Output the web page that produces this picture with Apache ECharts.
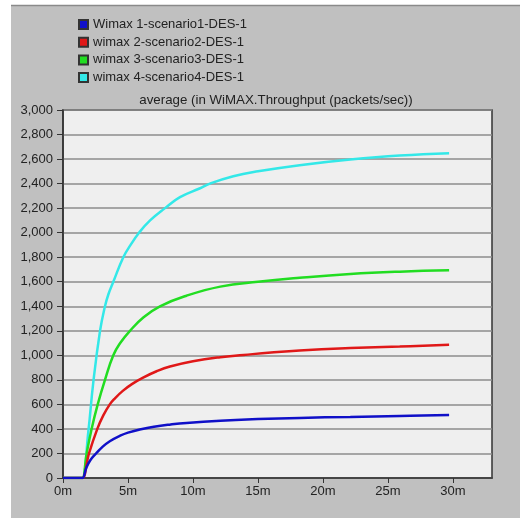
<!DOCTYPE html>
<html>
<head>
<meta charset="utf-8">
<script src="https://cdn.jsdelivr.net/npm/echarts@6/dist/echarts.min.js"></script>
<style>html,body{margin:0;padding:0;background:#fff;}#c{width:520px;height:518px;}</style>
</head>
<body>
<div id="c"></div>
<script>
// time in minutes, throughput in packets/sec
var seriesNames = ['Wimax 1-scenario1-DES-1', 'wimax 2-scenario2-DES-1', 'wimax 3-scenario3-DES-1', 'wimax 4-scenario4-DES-1'];
var wimax1 = [[0,0],[1.4,0],[1.5,0],[1.8,85],[2.1,145],[2.54,200],[3.0,250],[3.6,300],[4.4,345],[5,370],[6,398],[7,418],[8.2,435],[9.5,449],[12.1,467],[15,480],[18.2,490],[22.1,498],[25.9,506],[29.7,514]];
var wimax2 = [[0,0],[1.4,0],[1.5,0],[2.0,200],[2.64,400],[3.1,510],[3.6,600],[4.0,650],[4.6,710],[5.3,765],[6.2,820],[7.2,870],[8.23,909],[10,952],[12.1,985],[13.9,1003],[16,1023],[18.2,1040],[22.1,1059],[25.9,1072],[29.7,1086]];
var wimax3 = [[0,0],[1.4,0],[1.5,0],[1.82,200],[2.2,400],[2.67,600],[3.23,800],[3.87,1000],[4.4,1100],[5.15,1200],[6.2,1310],[7.46,1400],[9.5,1486],[12.1,1560],[15,1600],[18.2,1632],[22.1,1663],[25.9,1682],[29.7,1693]];
var wimax4 = [[0,0],[1.4,0],[1.5,0],[1.95,380],[2.33,780],[2.85,1200],[3.23,1400],[3.5,1500],[3.87,1600],[4.64,1800],[5.2,1900],[5.85,2000],[6.7,2100],[7.85,2200],[9,2290],[10.5,2360],[11.3,2400],[13.1,2460],[15,2500],[18.2,2550],[22.1,2596],[25.9,2629],[29.7,2648]];
var xTicks = [0, 5, 10, 15, 20, 25, 30];
var chartTitle = 'average (in WiMAX.Throughput (packets/sec))';

var colors = ['#1010c8', '#e01818', '#22dd22', '#33e8e8'];
var dataList = [wimax1, wimax2, wimax3, wimax4];
var FONT = 'Liberation Sans, Arial, sans-serif';

var series = [];
for (var i = 3; i >= 0; i--) {
  series.push({
    name: seriesNames[i],
    type: 'line',
    data: dataList[i],
    smooth: 0.45,
    showSymbol: false,
    z: 10 - i,
    lineStyle: { color: colors[i], width: 2.5 },
    itemStyle: { color: colors[i], borderColor: '#333', borderWidth: 1 }
  });
}

var chart = echarts.init(document.getElementById('c'), null, { renderer: 'canvas' });
chart.setOption({
  animation: false,
  backgroundColor: '#ffffff',
  textStyle: { fontFamily: FONT },
  graphic: [
    { type: 'rect', z: -10, shape: { x: 11, y: 6, width: 520, height: 520 }, style: { fill: '#c0c0c0' } },
    { type: 'line', z: -9, shape: { x1: 11, y1: 5.5, x2: 520, y2: 5.5 }, style: { stroke: '#8a8a8a', lineWidth: 1.5 } },
    { type: 'text', x: 276, y: 100, style: { text: chartTitle, align: 'center', verticalAlign: 'middle', fontSize: 13.3, fill: '#222', fontFamily: FONT } }
  ],
  legend: {
    orient: 'vertical',
    left: 78,
    top: 18,
    padding: 0,
    data: seriesNames,
    icon: 'rect',
    itemWidth: 9,
    itemHeight: 9,
    itemGap: 4.7,
    itemTextGap: 5,
    textStyle: { fontSize: 13, color: '#222', lineHeight: 13, fontFamily: FONT }
  },
  grid: {
    left: 63, top: 110, right: 28, bottom: 40,
    show: true, backgroundColor: '#efefef', borderColor: '#333', borderWidth: 1.5
  },
  xAxis: {
    type: 'value', min: 0, max: 33, interval: 5,
    axisLine: { show: true, lineStyle: { color: '#333', width: 1.5 } },
    axisTick: { show: true, length: 5, lineStyle: { color: '#333' }, customValues: xTicks },
    axisLabel: { fontSize: 13, color: '#222', margin: 7, customValues: xTicks, formatter: function (v) { return v + 'm'; } },
    splitLine: { show: false }
  },
  yAxis: {
    type: 'value', min: 0, max: 3000, interval: 200,
    axisLine: { show: true, lineStyle: { color: '#333', width: 1.5 } },
    axisTick: { show: true, length: 6, lineStyle: { color: '#333' } },
    axisLabel: { fontSize: 13, color: '#222', margin: 10, formatter: function (v) { return v.toLocaleString('en-US'); } },
    splitLine: { show: true, lineStyle: { color: '#8c8c8c', width: 1.5 } }
  },
  series: series
});
</script>
</body>
</html>
